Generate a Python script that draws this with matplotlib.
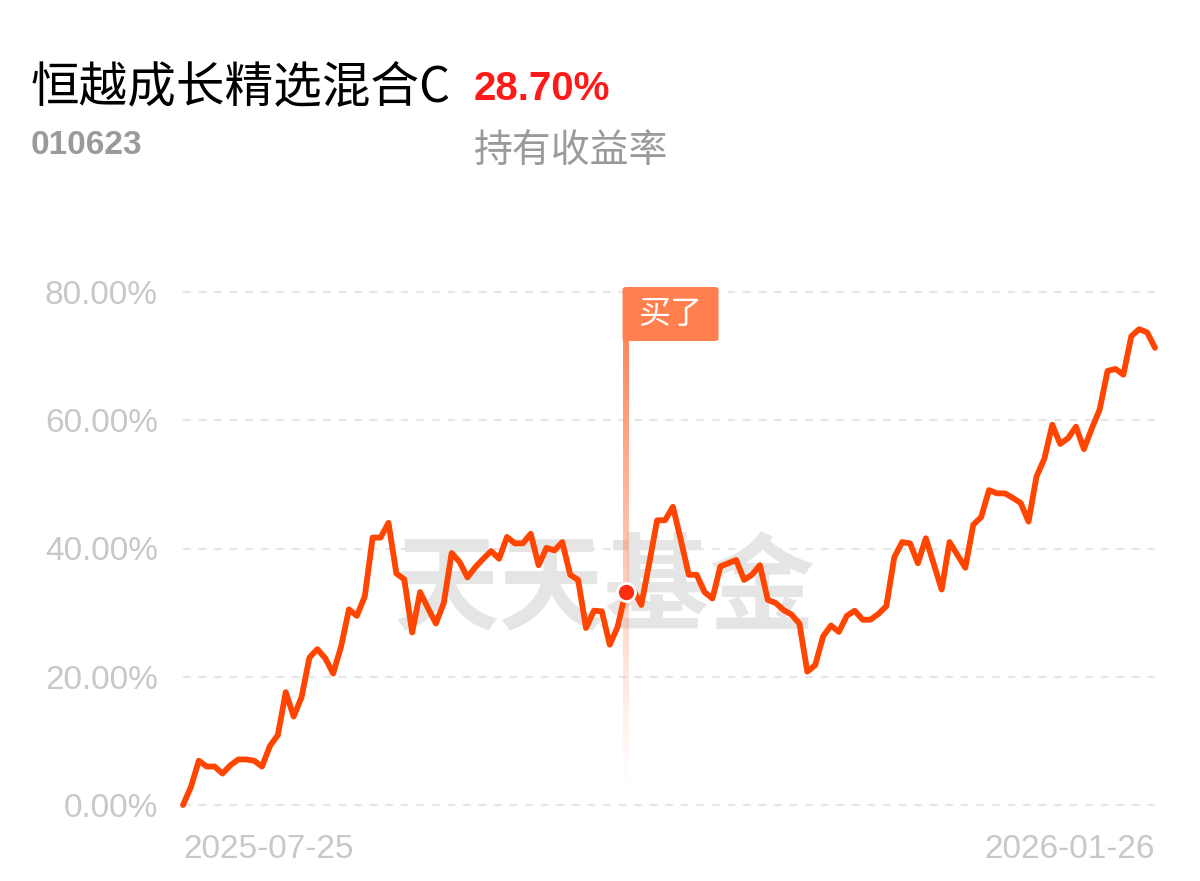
import numpy as np
import matplotlib
matplotlib.use("Agg")
import matplotlib.pyplot as plt
from matplotlib.patches import FancyBboxPatch
from matplotlib.colors import to_rgb

# ---------------- data ----------------
fund_name = "恒越成长精选混合C"
fund_code = "010623"
hold_return = "28.70%"
hold_label = "持有收益率"
start_date = "2025-07-25"
end_date = "2026-01-26"
buy_label = "买了"
watermark = "天天基金"
yticks = [0, 20, 40, 60, 80]
ytick_labels = ["0.00%", "20.00%", "40.00%", "60.00%", "80.00%"]

returns = [
    0.0, 2.8, 6.9, 6.0, 6.0, 4.9, 6.2, 7.1, 7.1, 6.9,
    6.0, 9.2, 10.9, 17.6, 13.8, 16.8, 23.0, 24.3, 22.9, 20.5,
    24.7, 30.5, 29.5, 32.5, 41.7, 41.7, 44.0, 36.1, 35.2, 26.9,
    33.2, 30.7, 28.3, 31.5, 39.3, 37.9, 35.5, 37.1, 38.4, 39.6,
    38.4, 41.8, 40.8, 40.8, 42.3, 37.4, 40.1, 39.7, 41.0, 35.9,
    35.1, 27.6, 30.3, 30.2, 25.0, 27.8, 33.2, 33.5, 31.2, 37.7,
    44.4, 44.4, 46.5, 41.3, 35.9, 35.9, 33.2, 32.2, 37.2, 37.7,
    38.2, 35.1, 35.9, 37.4, 32.0, 31.5, 30.4, 29.7, 28.3, 20.8,
    21.8, 26.3, 28.0, 27.0, 29.5, 30.3, 28.9, 28.9, 29.8, 31.0,
    38.6, 41.0, 40.8, 37.7, 41.6, 37.6, 33.6, 41.0, 39.0, 37.0,
    43.7, 44.9, 49.1, 48.6, 48.6, 47.9, 47.1, 44.2, 51.2, 54.0,
    59.3, 56.3, 57.2, 59.0, 55.5, 58.7, 61.7, 67.7, 68.0, 67.1,
    73.1, 74.2, 73.7, 71.3,
]
buy_index = 56

# ---------------- figure ----------------
W, H = 1200, 881
fig = plt.figure(figsize=(W / 100, H / 100), dpi=100)
fig.patch.set_facecolor("white")

def fx(px):
    return px / W

def fy(py):
    return 1 - py / H

left, right, bottom_px, top_px = 183, 1155, 805, 292
ax = fig.add_axes([fx(left), fy(bottom_px), fx(right - left), (bottom_px - top_px) / H])
ax.set_facecolor("none")

n = len(returns)
x = np.arange(n)
ax.set_xlim(0, n - 1)
ax.set_ylim(0, 80)

for s in ax.spines.values():
    s.set_visible(False)

# grid lines
for v in yticks:
    ax.axhline(v, color="#e6e6e6", lw=1.6, ls=(0, (3.5, 3.5)), zorder=1, clip_on=False)

ax.set_yticks(yticks)
ax.set_yticklabels(ytick_labels)
ax.tick_params(axis="y", length=0, pad=18, labelsize=24, labelcolor="#c8c8c8")
for lab in ax.get_yticklabels():
    lab.set_family("Liberation Sans")
ax.set_xticks([])

# watermark (inside axes, below the line)
ax.text(fx(605), fy(591), watermark, transform=fig.transFigure,
        ha="center", va="center", fontsize=76, fontweight="bold", color="#e5e5e5",
        family=["Noto Sans CJK SC", "DejaVu Sans"], zorder=0.5, clip_on=False)

# buy marker vertical gradient line
xpx_per_unit = (right - left) / (n - 1)
ypx_per_unit = (bottom_px - top_px) / 80
line_w_units = 6 / xpx_per_unit
y_top = (bottom_px - 341) / ypx_per_unit
y_bot = (bottom_px - 792) / ypx_per_unit
grad = np.zeros((256, 1, 4))
c = to_rgb("#ff7f50")
grad[:, 0, 0] = c[0]
grad[:, 0, 1] = c[1]
grad[:, 0, 2] = c[2]
grad[:, 0, 3] = np.linspace(0.95, 0.0, 256) ** 1.2
ax.imshow(grad, extent=[buy_index - line_w_units / 2, buy_index + line_w_units / 2, y_bot, y_top],
          origin="upper", aspect="auto", zorder=2, clip_on=False, interpolation="bilinear")
ax.set_xlim(0, n - 1)
ax.set_ylim(0, 80)

# label box
box_left = buy_index - line_w_units / 2
box_w = (717 - 621) / xpx_per_unit
box_b = (bottom_px - 341) / ypx_per_unit
box_h = (341 - 287) / ypx_per_unit
box = FancyBboxPatch((box_left, box_b), box_w, box_h,
                     boxstyle="round,pad=0,rounding_size=0.5",
                     fc="#ff7f4f", ec="none", zorder=5, clip_on=False,
                     mutation_aspect=ypx_per_unit / xpx_per_unit)
ax.add_patch(box)
ax.text(box_left + box_w / 2, box_b + box_h / 2, buy_label, ha="center", va="center",
        color="white", fontsize=23, family=["Noto Sans CJK SC", "DejaVu Sans"],
        zorder=6, clip_on=False)

# main line
ax.plot(x, returns, color="#ff4500", lw=4.2, solid_joinstyle="round",
        solid_capstyle="round", zorder=4, clip_on=False)

# buy point dot
ax.plot([buy_index], [returns[buy_index]], marker="o", markersize=13,
        markerfacecolor="#ff2d10", markeredgecolor="white", markeredgewidth=2,
        zorder=7, clip_on=False)

# x labels
fig.text(fx(183), fy(850), start_date, ha="left", va="center", fontsize=24,
         color="#c8c8c8", family="Liberation Sans")
fig.text(fx(1155), fy(850), end_date, ha="right", va="center", fontsize=24,
         color="#c8c8c8", family="Liberation Sans")

# header
fig.text(fx(31), fy(87), fund_name, ha="left", va="center", fontsize=35,
         color="black", family=["Noto Sans CJK SC", "DejaVu Sans"])
fig.text(fx(474), fy(89), hold_return, ha="left", va="center", fontsize=29,
         color="#ff1a1a", fontweight="bold",
         family=["Liberation Sans", "DejaVu Sans"])
fig.text(fx(31), fy(146), fund_code, ha="left", va="center", fontsize=24,
         color="#9a9a9a", fontweight="bold",
         family=["Liberation Sans", "DejaVu Sans"])
fig.text(fx(474), fy(151), hold_label, ha="left", va="center", fontsize=28,
         color="#9a9a9a", family=["Noto Sans CJK SC", "DejaVu Sans"])

fig.savefig("out.png", dpi=100, facecolor="white")
